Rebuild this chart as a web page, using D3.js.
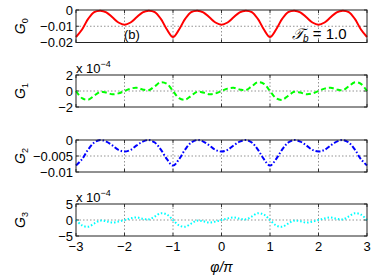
<!DOCTYPE html>
<html>
<head>
<meta charset="utf-8">
<script src="https://cdn.jsdelivr.net/npm/d3@7"></script>
<style>
  body { margin: 0; background: #fff; }
  text { font-family: "Liberation Sans", Arial, sans-serif; }
</style>
</head>
<body>
<div id="chart"></div>
<script>

// phi / pi sample points
var phi = [-3,-2.875,-2.75,-2.625,-2.5,-2.375,-2.25,-2.125,-2,-1.875,-1.75,-1.625,-1.5,-1.375,-1.25,-1.125,
           -1,-0.875,-0.75,-0.625,-0.5,-0.375,-0.25,-0.125,0,0.125,0.25,0.375,0.5,0.625,0.75,0.875,
           1,1.125,1.25,1.375,1.5,1.625,1.75,1.875,2,2.125,2.25,2.375,2.5,2.625,2.75,2.875,3];

var g0 = [-0.0166,-0.0120,-0.0055,-0.0013,-0.0004,-0.0014,-0.0045,-0.0077,-0.0091,-0.0077,-0.0045,-0.0014,-0.0004,-0.0013,-0.0055,-0.0120,
          -0.0166,-0.0120,-0.0055,-0.0013,-0.0004,-0.0014,-0.0045,-0.0077,-0.0091,-0.0077,-0.0045,-0.0014,-0.0004,-0.0013,-0.0055,-0.0120,
          -0.0166,-0.0120,-0.0055,-0.0013,-0.0004,-0.0014,-0.0045,-0.0077,-0.0091,-0.0077,-0.0045,-0.0014,-0.0004,-0.0013,-0.0055,-0.0120,-0.0166];

// in units of 1e-4
var g1 = [0,-0.9,-1.1,-0.6,-0.1,-0.2,-0.4,-0.3,0,0.3,0.4,0.2,0.1,0.6,1.1,0.9,
          0,-0.9,-1.1,-0.6,-0.1,-0.2,-0.4,-0.3,0,0.3,0.4,0.2,0.1,0.6,1.1,0.9,
          0,-0.9,-1.1,-0.6,-0.1,-0.2,-0.4,-0.3,0,0.3,0.4,0.2,0.1,0.6,1.1,0.9,0];

var g2 = [-0.0080,-0.0060,-0.0030,-0.0008,0.0000,-0.0005,-0.0017,-0.0031,-0.0036,-0.0031,-0.0017,-0.0005,0.0000,-0.0008,-0.0030,-0.0060,
          -0.0080,-0.0060,-0.0030,-0.0008,0.0000,-0.0005,-0.0017,-0.0031,-0.0036,-0.0031,-0.0017,-0.0005,0.0000,-0.0008,-0.0030,-0.0060,
          -0.0080,-0.0060,-0.0030,-0.0008,0.0000,-0.0005,-0.0017,-0.0031,-0.0036,-0.0031,-0.0017,-0.0005,0.0000,-0.0008,-0.0030,-0.0060,-0.0080];

// in units of 1e-4
var g3 = [0,-1.7,-2.1,-1.1,-0.2,-0.4,-0.8,-0.5,0,0.5,0.8,0.4,0.2,1.1,2.1,1.7,
          0,-1.7,-2.1,-1.1,-0.2,-0.4,-0.8,-0.5,0,0.5,0.8,0.4,0.2,1.1,2.1,1.7,
          0,-1.7,-2.1,-1.1,-0.2,-0.4,-0.8,-0.5,0,0.5,0.8,0.4,0.2,1.1,2.1,1.7,0];

var xTicks = [-3,-2,-1,0,1,2,3];
var xTickLabels = ["\u22123","\u22122","\u22121","0","1","2","3"];

var yTicks0 = [-0.02,-0.01,0],  yLabels0 = ["\u22120.02","\u22120.01","0"];
var yTicks1 = [-2,0,2],         yLabels1 = ["\u22122","0","2"];
var yTicks2 = [-0.01,-0.005,0], yLabels2 = ["\u22120.01","\u22120.005","0"];
var yTicks3 = [-5,0,5],         yLabels3 = ["\u22125","0","5"];

//====================================================================================

var width = 374, height = 277;
var left = 76, right = 367;

var svg = d3.select("#chart").append("svg")
    .attr("width", width)
    .attr("height", height);

svg.append("rect").attr("width", width).attr("height", height).attr("fill", "#fff");

var x = d3.scaleLinear().domain([-3, 3]).range([left, right]);

var panels = [
  {data: g0, top: 10,  bottom: 42.5, dom: [-0.02, 0],  ticks: yTicks0, labels: yLabels0, color: "#ff0000", dash: null,          sub: "0", exp: false},
  {data: g1, top: 75,  bottom: 107,  dom: [-2, 2],     ticks: yTicks1, labels: yLabels1, color: "#00ff00", dash: "5,3",         sub: "1", exp: true},
  {data: g2, top: 140, bottom: 172,  dom: [-0.01, 0],  ticks: yTicks2, labels: yLabels2, color: "#0000ff", dash: "5,2,1.5,2",   sub: "2", exp: false},
  {data: g3, top: 204, bottom: 236,  dom: [-5, 5],     ticks: yTicks3, labels: yLabels3, color: "#00ffff", dash: "1.5,2",       sub: "3", exp: true}
];

panels.forEach(function(p, k){

  var y = d3.scaleLinear().domain(p.dom).range([p.bottom, p.top]);
  var g = svg.append("g");

  // grid
  g.selectAll("line.vg").data(xTicks.slice(1, -1)).enter().append("line")
      .attr("x1", function(d){ return x(d); }).attr("x2", function(d){ return x(d); })
      .attr("y1", p.top).attr("y2", p.bottom)
      .attr("stroke", "#777").attr("stroke-width", 0.8).attr("stroke-dasharray", "1.5,2");
  g.selectAll("line.hg").data(p.ticks.slice(1, -1)).enter().append("line")
      .attr("x1", left).attr("x2", right)
      .attr("y1", function(d){ return y(d); }).attr("y2", function(d){ return y(d); })
      .attr("stroke", "#777").attr("stroke-width", 0.8).attr("stroke-dasharray", "1.5,2");

  // ticks inside
  xTicks.forEach(function(t){
    g.append("line").attr("x1", x(t)).attr("x2", x(t)).attr("y1", p.bottom).attr("y2", p.bottom - 3).attr("stroke", "#333");
    g.append("line").attr("x1", x(t)).attr("x2", x(t)).attr("y1", p.top).attr("y2", p.top + 3).attr("stroke", "#333");
  });
  p.ticks.forEach(function(t, i){
    g.append("line").attr("x1", left).attr("x2", left + 3).attr("y1", y(t)).attr("y2", y(t)).attr("stroke", "#333");
    g.append("line").attr("x1", right).attr("x2", right - 3).attr("y1", y(t)).attr("y2", y(t)).attr("stroke", "#333");
    g.append("text")
      .attr("x", left - 3).attr("y", y(t) + 4.5)
      .attr("text-anchor", "end").attr("font-size", 13)
      .text(p.labels[i]);
  });

  // curve
  var line = d3.line()
      .x(function(d, i){ return x(phi[i]); })
      .y(function(d){ return y(d); })
      .curve(d3.curveCatmullRom);

  g.append("path")
      .datum(p.data)
      .attr("d", line)
      .attr("fill", "none")
      .attr("stroke", p.color)
      .attr("stroke-width", 2)
      .attr("stroke-dasharray", p.dash);

  // frame
  g.append("rect")
      .attr("x", left).attr("y", p.top)
      .attr("width", right - left).attr("height", p.bottom - p.top)
      .attr("fill", "none").attr("stroke", "#222").attr("stroke-width", 1);

  // y label
  var lab = g.append("text")
      .attr("transform", "translate(25," + ((p.top + p.bottom) / 2) + ") rotate(-90)")
      .attr("text-anchor", "middle")
      .attr("font-family", "Liberation Serif, serif")
      .attr("font-size", 14);
  lab.append("tspan").attr("font-style", "italic").text("G");
  lab.append("tspan").attr("font-size", 9).attr("dy", 3).text(p.sub);

  // exponent
  if(p.exp){
    var ex = g.append("text").attr("x", left).attr("y", p.top - 2).attr("font-size", 13);
    ex.append("tspan").text("x 10");
    ex.append("tspan").attr("font-size", 9).attr("dy", -6).text("\u22124");
  }

  // x tick labels on the last panel
  if(k === panels.length - 1){
    xTicks.forEach(function(t, i){
      g.append("text")
        .attr("x", x(t)).attr("y", p.bottom + 15)
        .attr("text-anchor", "middle").attr("font-size", 13)
        .text(xTickLabels[i]);
    });
  }
});

// annotations
svg.append("text").attr("x", 124).attr("y", 39).attr("font-size", 13).text("(b)");

var tb = svg.append("text").attr("x", 292).attr("y", 39)
    .attr("font-family", "Liberation Serif, serif").attr("font-size", 15);
tb.append("tspan").attr("font-style", "italic").text("\uD835\uDCAF");
tb.append("tspan").attr("font-style", "italic").attr("font-size", 10).attr("dy", 3).text("b");
tb.append("tspan").attr("dy", -3).text(" = 1.0");

var xl = svg.append("text").attr("x", (left + right) / 2).attr("y", 272)
    .attr("text-anchor", "middle")
    .attr("font-family", "Liberation Serif, serif").attr("font-size", 14)
    .attr("font-style", "italic");
xl.append("tspan").text("\u03C6/\u03C0");

</script>
</body>
</html>
